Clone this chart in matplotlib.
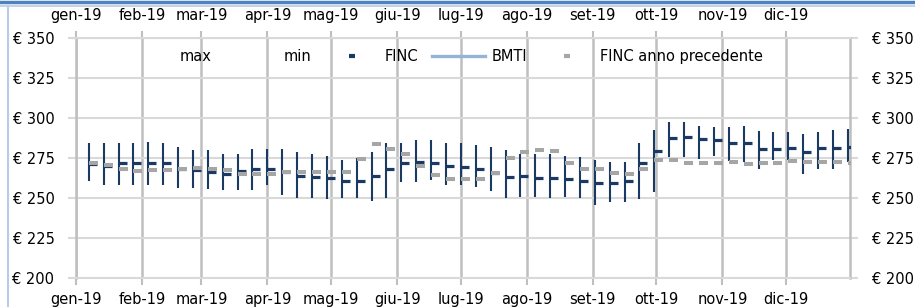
import numpy as np
import pandas as pd
import matplotlib
matplotlib.use("Agg")
import matplotlib.pyplot as plt
import matplotlib.dates as mdates
from matplotlib.path import Path
from matplotlib.lines import Line2D

# weekly values (Mondays of 2019)
weeks = pd.date_range("2019-01-07", periods=52, freq="7D")

max_vals = [284.6, 284.6, 284.6, 284.6, 285.0, 284.6, 281.5, 279.8, 279.8, 277.7,
            277.7, 280.8, 280.8, 280.8, 278.8, 277.3, 276.0, 273.5, 274.6, 278.8,
            284.0, 284.0, 286.0, 286.0, 284.0, 284.0, 282.9, 281.9, 279.8, 277.5,
            277.7, 277.7, 276.0, 275.4, 273.7, 272.5, 272.5, 284.6, 292.5, 297.5,
            297.5, 294.8, 294.4, 294.4, 294.8, 291.7, 291.3, 291.3, 290.2, 291.3,
            292.3, 293.3]
min_vals = [260.4, 257.9, 258.0, 258.0, 258.0, 258.0, 256.0, 256.0, 255.8, 254.8,
            254.8, 254.8, 258.0, 252.0, 250.0, 250.0, 249.0, 250.0, 250.0, 248.0,
            250.0, 260.0, 260.0, 261.0, 258.0, 258.0, 256.9, 254.2, 250.0, 250.6,
            250.6, 250.0, 250.6, 250.0, 245.4, 247.5, 247.5, 249.0, 253.5, 275.4,
            275.4, 274.4, 276.0, 273.1, 272.5, 268.2, 273.5, 273.5, 265.2, 268.3,
            268.3, 272.5]
finc = [271.0, 270.0, 271.5, 271.5, 271.5, 271.5, 268.3, 267.3, 266.3, 264.8,
        266.7, 267.9, 267.9, 266.0, 263.5, 263.1, 262.5, 260.8, 260.8, 263.5,
        268.0, 272.0, 272.5, 272.0, 270.0, 269.4, 267.9, 265.8, 263.3, 263.5,
        262.5, 262.1, 261.5, 260.6, 259.2, 259.0, 260.4, 271.8, 279.0, 287.6,
        288.2, 286.6, 286.0, 284.5, 284.6, 280.8, 280.8, 281.3, 278.8, 281.3,
        281.3, 281.9]
finc_prev = [271.9, 270.4, 268.0, 266.5, 267.3, 267.3, 268.3, 268.7, 268.3, 267.3,
             265.2, 265.2, 265.0, 266.0, 266.0, 266.3, 266.3, 266.3, 274.5, 283.4,
             280.4, 277.7, 270.0, 264.2, 261.5, 261.7, 261.7, 265.8, 275.2, 278.8,
             279.8, 279.4, 271.5, 268.3, 267.9, 265.6, 265.2, 268.3, 273.5, 273.5,
             271.5, 271.5, 271.5, 272.5, 271.0, 271.5, 271.9, 272.9, 272.5, 272.5,
             272.1, 271.9]
bmti = []  # no BMTI values in this period

legend_labels = ["max", "min", "FINC", "BMTI", "FINC anno precedente"]
month_labels = ["gen-19", "feb-19", "mar-19", "apr-19", "mag-19", "giu-19",
                "lug-19", "ago-19", "set-19", "ott-19", "nov-19", "dic-19"]
y_ticks = [200, 225, 250, 275, 300, 325, 350]

navy = "#1b3a63"
gray = "#a6a6a6"
light_blue = "#95b3d7"

plt.rcParams["font.family"] = ["DejaVu Sans"]

fig = plt.figure(figsize=(9.15, 3.07), dpi=100)
ax = fig.add_axes([76 / 915, 1 - 277.7 / 307, 774 / 915, 239.7 / 307])

# tick to the right of the point
right_tick = Path([(0, 0), (1, 0)])

ax.vlines(weeks, min_vals, max_vals, color=navy, lw=1.5, zorder=3)
ax.plot(weeks, finc, ls="none", marker=right_tick, markersize=11,
        mew=2.3, color=navy, zorder=4)
ax.plot(weeks, finc_prev, ls="none", marker=right_tick, markersize=13,
        mew=2.9, color=gray, zorder=5)

ax.set_xlim(pd.Timestamp("2019-01-01"), pd.Timestamp("2019-12-31"))
ax.set_ylim(200, 350)
ax.set_yticks(y_ticks)
ax.set_yticklabels([f"€ {v}" for v in y_ticks])

month_ticks = pd.date_range("2019-01-01", periods=12, freq="MS")
ax.set_xticks(month_ticks)
ax.set_xticklabels(month_labels)

ax.tick_params(axis="x", top=True, labeltop=True, length=5, width=1.5,
               color="#bfbfbf", labelsize=10.5, pad=5.5)
ax.tick_params(axis="y", right=True, labelright=True, length=6, width=1.5,
               color="#d9d9d9", labelsize=10.5, pad=9.5)

ax.grid(axis="x", color="#bfbfbf", lw=1.8)
ax.grid(axis="y", color="#d9d9d9", lw=1.5)
ax.set_axisbelow(True)
for side in ["left", "right"]:
    ax.spines[side].set_color("#bfbfbf")
    ax.spines[side].set_linewidth(1.8)
for side in ["top", "bottom"]:
    ax.spines[side].set_color("#d9d9d9")
    ax.spines[side].set_linewidth(1.5)

handles = [
    Line2D([], [], ls="none"),
    Line2D([], [], ls="none"),
    Line2D([], [], ls="none", marker="_", markersize=4, mew=3, color=navy),
    Line2D(bmti, bmti, color=light_blue, lw=2.4),
    Line2D([], [], ls="none", marker="_", markersize=5, mew=3, color=gray),
]
ax.legend(handles, legend_labels, ncol=5, loc="center",
          bbox_to_anchor=(0.472, 0.921), frameon=False, fontsize=10.5,
          handlelength=3.6, handletextpad=0.45, columnspacing=0.95,
          borderaxespad=0, borderpad=0)

# border of the frame the chart sits in
fig.add_artist(Line2D([0, 1], [1 - 1.5 / 307, 1 - 1.5 / 307],
                      transform=fig.transFigure, color="#4f81bd", lw=2.5))
fig.add_artist(Line2D([0, 1], [1 - 5.5 / 307, 1 - 5.5 / 307],
                      transform=fig.transFigure, color="#b8cce4", lw=1.2))
fig.add_artist(Line2D([8 / 915, 8 / 915], [0, 1 - 5.5 / 307],
                      transform=fig.transFigure, color="#b8cce4", lw=1.5))

fig.savefig("out.png", dpi=100)
